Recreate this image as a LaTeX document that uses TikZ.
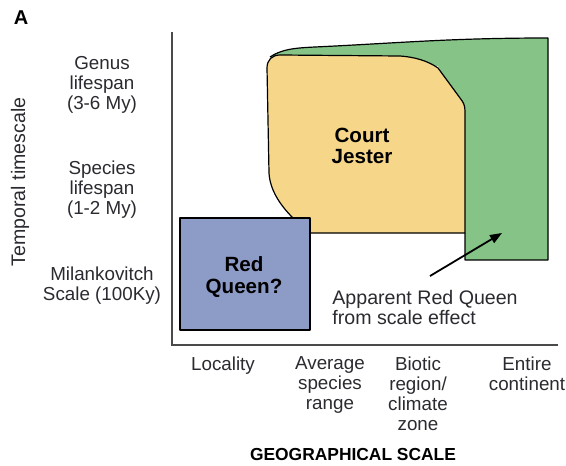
\documentclass[tikz,border=0pt]{standalone}
\usepackage{fontspec}
\setmainfont{Liberation Sans}
\usetikzlibrary{arrows.meta}
\definecolor{cjyellow}{HTML}{F6D688}
\definecolor{scgreen}{HTML}{85C386}
\definecolor{rqblue}{HTML}{8D9CC7}
\definecolor{axisgray}{HTML}{4A4A4A}
\definecolor{txt}{HTML}{2A2A30}
\tikzset{
  lbl/.style={align=center, inner sep=0pt, text=txt, font=\fontsize{9.4}{10}\selectfont},
  blbl/.style={align=center, inner sep=0pt, text=black, font=\fontsize{10.3}{10.8}\selectfont\bfseries},
  shapeline/.style={draw=black, line width=0.6pt, line join=round},
  axisline/.style={draw=axisgray, line width=1.1pt}
}
\begin{document}
\begin{tikzpicture}[x=0.5pt, y=-0.5pt]
\useasboundingbox (0,0) rectangle (566,465);
% green region
\fill[scgreen] (270,57) .. controls (282,49) and (295,48) .. (315,47) .. controls (400,43) and (450,38) .. (548,38) -- (548,260) -- (465,260) -- (465,120) -- (438,66) -- (280,56) -- cycle;
\draw[shapeline] (270,57) .. controls (282,49) and (295,48) .. (315,47) .. controls (400,43) and (450,38) .. (548,38) -- (548,260) -- (465,260) -- (465,233);
% yellow region
\path[shapeline, fill=cjyellow] (280,55) -- (400,56) .. controls (415,57) and (428,61) .. (438,68) -- (460,98) .. controls (464,103) and (465,106) .. (465,112) -- (465,233) -- (310,233) -- (293,218) .. controls (280,205) and (270,190) .. (269,173) -- (267,68) .. controls (267,60) and (272,55) .. (280,55) -- cycle;
% red queen box
\path[shapeline, fill=rqblue] (180,218) rectangle (310,330);
% axes
\coordinate (origin) at (172,345);
\coordinate (ytop) at (172,32);
\coordinate (xend) at (558,345);
\draw[axisline] (ytop) -- (origin) -- (xend);
% labels in plot
\node[blbl] (cj) at (362,146) {Court\\Jester};
\node[blbl] (rq) at (244,277) {Red\\Queen?};
\node[lbl, align=left, anchor=west, font=\fontsize{9.8}{10}\selectfont] (arq) at (332,307) {Apparent Red Queen\\from scale effect};
\coordinate (arrstart) at (430,276);
\coordinate (arrtip) at (502,233);
\draw[black, line width=0.9pt, -{Triangle[length=6pt,width=4.5pt]}] (arrstart) -- (arrtip);
% y labels
\node[lbl] (genus) at (102,85) {Genus\\lifespan\\(3-6 My)};
\node[lbl] (species) at (102,190) {Species\\lifespan\\(1-2 My)};
\node[lbl] (milan) at (102,286) {Milankovitch\\Scale (100Ky)};
\node[lbl, rotate=90, font=\fontsize{9.8}{10}\selectfont] (ytitle) at (20,182) {Temporal timescale};
% x labels
\node[lbl, anchor=north] (loc) at (223,356) {Locality};
\node[lbl, anchor=north] (avg) at (330,356) {Average\\species\\range};
\node[lbl, anchor=north] (biotic) at (418,356) {Biotic\\region/\\climate\\zone};
\node[lbl, anchor=north] (entire) at (527,356) {Entire\\continent};
\node[blbl, font=\fontsize{8.7}{10}\selectfont\bfseries] (xtitle) at (353,455) {GEOGRAPHICAL SCALE};
\node[blbl, font=\fontsize{10}{10}\selectfont\bfseries] (panel) at (21,18) {A};
\end{tikzpicture}
\end{document}
